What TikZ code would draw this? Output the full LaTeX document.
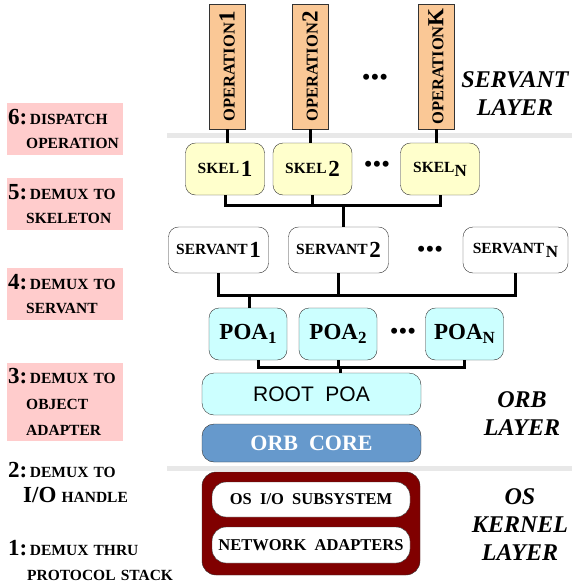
\documentclass[tikz,border=0pt]{standalone}
\usepackage{fontspec}
\setmainfont{Liberation Serif}
\newfontfamily\rootfont{Liberation Sans}
\usetikzlibrary{positioning}

\definecolor{opfill}{RGB}{250,200,150}
\definecolor{skelfill}{RGB}{255,255,204}
\definecolor{poafill}{RGB}{204,255,255}
\definecolor{corefill}{RGB}{102,153,204}
\definecolor{kernelfill}{RGB}{128,0,0}
\definecolor{stepfill}{RGB}{255,204,204}
\definecolor{sepgray}{RGB}{232,232,232}

\newcommand\smc[1]{{\fontsize{15.5}{17}\selectfont #1}}
\newcommand\bigc[1]{{\fontsize{23}{25}\selectfont #1}}
\newcommand\lowsub[1]{\raisebox{-4pt}{\fontsize{17}{18}\selectfont #1}}

\begin{document}
\begin{tikzpicture}[x=1pt,y=-1pt,font=\bfseries,
  conn/.style={line width=3pt},
  sep/.style={draw=sepgray,line width=5pt},
  opbox/.style={draw=black!80,fill=opfill,minimum width=36,minimum height=125,inner sep=0},
  skelbox/.style={draw=black!80,fill=skelfill,rounded corners=10,minimum width=79,minimum height=52,inner sep=0},
  servbox/.style={draw=black!80,fill=white,rounded corners=10,minimum width=100,minimum height=46,inner sep=0},
  poabox/.style={draw=black!80,fill=poafill,rounded corners=10,minimum width=78,minimum height=52,inner sep=0},
  wide/.style={draw=black!80,rounded corners=12,minimum width=219,inner sep=0},
  osbox/.style={draw=black!80,fill=white,rounded corners=14,minimum width=198,minimum height=35,inner sep=0,font=\fontsize{16.5}{18}\selectfont\bfseries},
  dots/.style={font=\fontsize{25}{26}\selectfont},
  layername/.style={font=\fontsize{24}{28}\selectfont\bfseries\itshape,align=center},
  stepbox/.style={fill=stepfill,align=left,text width=114,inner xsep=1,inner ysep=4,minimum height=52,anchor=north west,font=\fontsize{15.5}{24}\selectfont\bfseries},
  steptext/.style={align=left,text width=200,anchor=north west,inner sep=0,font=\fontsize{15.5}{25}\selectfont\bfseries},
]
\useasboundingbox (0,0) rectangle (572,584);

% layer separators
\draw[sep] (167,135) -- (572,135);
\draw[sep] (167,468) -- (572,468);

% servant layer
\node[opbox] (op1) at (227,66.5) {\rotatebox{90}{{\fontsize{16.5}{18}\selectfont OPERATION}{\fontsize{23}{25}\selectfont 1}}};
\node[opbox] (op2) at (310,66.5) {\rotatebox{90}{{\fontsize{16.5}{18}\selectfont OPERATION}{\fontsize{23}{25}\selectfont 2}}};
\node[opbox] (opK) at (436,66.5) {\rotatebox{90}{{\fontsize{16.5}{18}\selectfont OPERATION}{\fontsize{23}{25}\selectfont K}}};
\node[dots] (opdots) at (375,80) {\textbullet\textbullet\textbullet};

\node[skelbox] (skel1) at (225,169) {\smc{SKEL}\,\raisebox{-3pt}{\bigc{1}}};
\node[skelbox] (skel2) at (312.5,169) {\smc{SKEL}\,\raisebox{-3pt}{\bigc{2}}};
\node[skelbox] (skelN) at (440,169) {\smc{SKEL}\lowsub{N}};
\node[dots] (skeldots) at (377,167) {\textbullet\textbullet\textbullet};

\node[servbox] (serv1) at (218.5,250) {\smc{SERVANT}\,\raisebox{-3pt}{\bigc{1}}};
\node[servbox] (serv2) at (338.5,250) {\smc{SERVANT}\,\raisebox{-3pt}{\bigc{2}}};
\node[servbox,minimum width=105] (servN) at (515.5,250) {\smc{SERVANT}\,\lowsub{N}};
\node[dots] (servdots) at (430,252) {\textbullet\textbullet\textbullet};

\node[poabox] (poa1) at (248,334) {\bigc{POA}\lowsub{1}};
\node[poabox] (poa2) at (338,334) {\bigc{POA}\lowsub{2}};
\node[poabox] (poaN) at (464.5,334) {\bigc{POA}\lowsub{N}};
\node[dots] (poadots) at (403,334) {\textbullet\textbullet\textbullet};

% orb layer
\node[wide,fill=poafill,minimum height=42,font=\rootfont\fontsize{21}{22}\selectfont] (root) at (311.5,394) {ROOT\ \ POA};
\node[wide,fill=corefill,minimum height=38,text=white,font=\fontsize{22}{23}\selectfont\bfseries] (core) at (311.5,443) {ORB\ \ CORE};

% os kernel layer
\node[wide,fill=kernelfill,minimum width=218,minimum height=103,rounded corners=14] (kernel) at (311,523.5) {};
\node[osbox] (osio) at (311,499.5) {OS\ \ I/O\ \ SUBSYSTEM};
\node[osbox,minimum height=36] (netad) at (311,545) {NETWORK\ \ ADAPTERS};

% demux wiring
\draw[conn] (op1.south) -- (op1.south |- skel1.north);
\draw[conn] (op2.south) -- (op2.south |- skel2.north);
\draw[conn] (opK.south) -- (opK.south |- skelN.north);

\coordinate (skelbus) at (343,205);
\draw[conn] (skel1.south) |- (skelbus) -| (skelN.south);
\draw[conn] (skel2.south) -- (skel2.south |- skelbus);
\draw[conn] (skelbus) -- (skelbus |- serv2.north);

\coordinate (servbus) at (249,295);
\draw[conn] (serv1.south) |- (servbus) -| (servN.south);
\draw[conn] (serv2.south) -- (serv2.south |- servbus);
\draw[conn] (servbus) -- (servbus |- poa1.north);

\coordinate (poabus) at (340,367);
\draw[conn] ([xshift=10]poa1.south) |- (poabus) -| (poaN.south);
\draw[conn] (poa2.south) -- (poa2.south |- poabus);
\draw[conn] (poabus) -- (poabus |- root.north);

% layer names
\node[layername] (servlayer) at (515,94) {SERVANT\\LAYER};
\node[layername] (orblayer) at (522,414) {ORB\\LAYER};
\node[layername] (oslayer) at (520,525) {OS\\KERNEL\\LAYER};

% demultiplexing steps
\node[stepbox] (step6) at (7,103) {\bigc{6:}\,DISPATCH\\\hspace*{18pt}OPERATION};
\node[stepbox] (step5) at (7,178) {\bigc{5:}\,DEMUX\ TO\\\hspace*{18pt}SKELETON};
\node[stepbox] (step4) at (7,268) {\bigc{4:}\,DEMUX\ TO\\\hspace*{18pt}SERVANT};
\node[stepbox,minimum height=78,font=\fontsize{15.5}{26}\selectfont\bfseries] (step3) at (7,363) {\bigc{3:}\,DEMUX\ TO\\\hspace*{18pt}OBJECT\\\hspace*{18pt}ADAPTER};
\node[steptext] (step2) at (8,462) {\bigc{2:}\,DEMUX\ TO\\\hspace*{15pt}\bigc{I/O}\ HANDLE};
\node[steptext] (step1) at (8,540) {\bigc{1:}\,DEMUX\ THRU\\\hspace*{19pt}PROTOCOL\ STACK};
\end{tikzpicture}
\end{document}
